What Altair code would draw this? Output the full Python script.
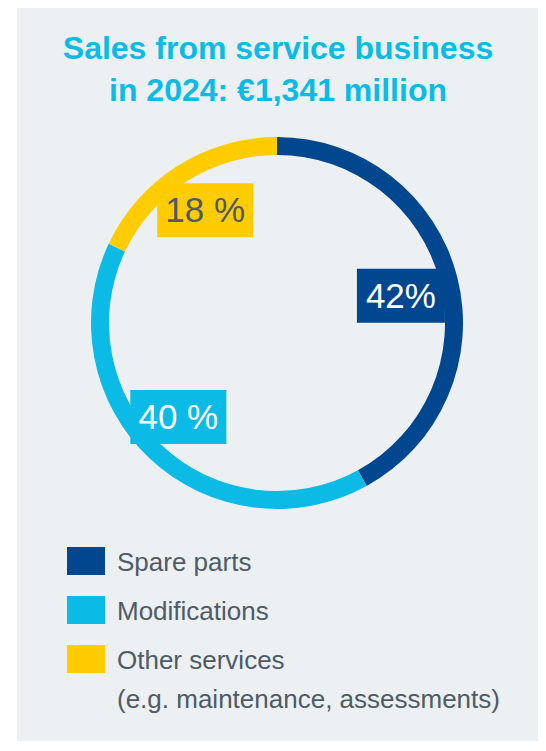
import altair as alt
import pandas as pd

# ---- data ----
categories = ["Spare parts", "Modifications", "Other services"]
shares = [42, 40, 18]
value_labels = ["42%", "40 %", "18 %"]
legend_labels = ["Spare parts", "Modifications",
                 "Other services\n(e.g. maintenance, assessments)"]
title_lines = ["Sales from service business", "in 2024: €1,341 million"]

# ---- styles ----
palette = ["#00478f", "#0bbbe5", "#ffcc00"]
grey_text = "#4e5b67"
bg = "#ecf0f3"
FONT = "Liberation Sans"

CX, CY = 260, 315        # ring centre (view px)
R_OUT, R_IN = 186, 168
R_LAB = 132
LX0, LY0 = CX - 5, CY + 1  # label circle centre
ROT = 2 * 3.14159265 / 180  # small rotation of labels

df = pd.DataFrame({
    "category": categories,
    "value": shares,
    "label": value_labels,
    "legend": legend_labels,
    "order": list(range(len(categories))),
})
title_df = pd.DataFrame({"line": title_lines, "i": list(range(len(title_lines)))})

color = alt.Color("category:N", scale=alt.Scale(domain=categories, range=palette), legend=None)

base = alt.Chart(df)

ring = base.mark_arc(innerRadius=R_IN, outerRadius=R_OUT).encode(
    theta=alt.Theta("value:Q", stack=True),
    order=alt.Order("order:Q"),
    color=color,
    x=alt.value(CX), y=alt.value(CY),
)

lab = base.transform_joinaggregate(total="sum(value)").transform_window(
    cum="sum(value)", sort=[alt.SortField("order")], frame=[None, 0]
).transform_calculate(
    mid=f"(datum.cum - datum.value/2)/datum.total*2*PI + {ROT}",
).transform_calculate(
    lx=f"{LX0} + {R_LAB}*sin(datum.mid)",
    ly=f"{LY0} - {R_LAB}*cos(datum.mid)",
    hw="length(datum.label)*4 + 32",
).transform_calculate(
    x1="datum.lx - datum.hw", x2="datum.lx + datum.hw",
    y1="datum.ly - 27", y2="datum.ly + 27",
)

boxes = lab.mark_rect().encode(
    x=alt.X("x1:Q", scale=None), x2="x2:Q",
    y=alt.Y("y1:Q", scale=None), y2="y2:Q",
    color=color,
)
texts = lab.mark_text(font=FONT, fontSize=35, align="center", baseline="middle", dy=1).encode(
    x=alt.X("lx:Q", scale=None), y=alt.Y("ly:Q", scale=None),
    text="label:N",
    color=alt.condition("datum.category == 'Other services'", alt.value(grey_text), alt.value("white")),
)

leg = base.transform_calculate(
    ry="553 + 49*datum.order",
).transform_calculate(
    ry1="datum.ry - 14", ry2="datum.ry + 14", ty="datum.ry + 9.5",
)
leg_sq = leg.mark_rect().encode(
    x=alt.value(50), x2=alt.value(88),
    y=alt.Y("ry1:Q", scale=None), y2="ry2:Q",
    color=color,
)
leg_tx = leg.mark_text(font=FONT, fontSize=26, align="left", baseline="alphabetic",
                       lineBreak="\n", lineHeight=39, color=grey_text).encode(
    x=alt.value(100), y=alt.Y("ty:Q", scale=None), text="legend:N",
)

title = alt.Chart(title_df).transform_calculate(ty="51 + 42*datum.i").mark_text(
    font=FONT, fontSize=32, fontWeight="bold", color="#0bbbe5", align="center", baseline="alphabetic"
).encode(x=alt.value(261), y=alt.Y("ty:Q", scale=None), text="line:N")

chart = alt.layer(ring, boxes, texts, leg_sq, leg_tx, title).properties(
    width=521, height=733,
    padding={"left": 9, "top": 0, "right": 0, "bottom": 0},
    autosize=alt.AutoSizeParams(type="none"),
    background="white",
).configure_view(fill=bg, stroke=None)

chart.save("out.html", embed_options={"renderer": "svg", "actions": False})
